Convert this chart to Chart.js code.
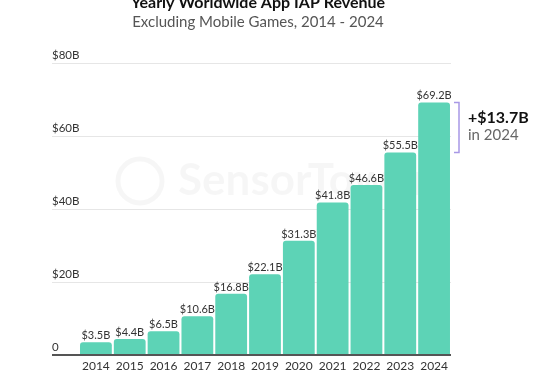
<!DOCTYPE html>
<html>
<head>
<meta charset="utf-8">
<script src="https://cdn.jsdelivr.net/npm/chart.js@4"></script>
<style>
  html, body { margin: 0; padding: 0; background: #fff; }
  #wrap { width: 540px; height: 372px; }
</style>
</head>
<body>
<div id="wrap"><canvas id="iapChart"></canvas></div>
<script>
// chart data
const years = ['2014', '2015', '2016', '2017', '2018', '2019', '2020', '2021', '2022', '2023', '2024'];
const revenue = [3.5, 4.4, 6.5, 10.6, 16.8, 22.1, 31.3, 41.8, 46.6, 55.5, 69.2];
const valueLabels = ['$3.5B', '$4.4B', '$6.5B', '$10.6B', '$16.8B', '$22.1B', '$31.3B', '$41.8B', '$46.6B', '$55.5B', '$69.2B'];
const yTickLabels = ['0', '$20B', '$40B', '$60B', '$80B'];

const FONT = '"Source Sans Pro", Lato, "Noto Sans", sans-serif';

// labels above bars, title, watermark and the growth bracket
const extras = {
    id: 'extras',
    beforeDatasetsDraw(chart) {
        const ctx = chart.ctx;
        ctx.save();
        ctx.fillStyle = 'rgba(0,0,0,0.035)';
        ctx.font = 'bold 44px ' + FONT;
        ctx.textAlign = 'left';
        ctx.textBaseline = 'middle';
        ctx.fillText('SensorTower', 178, 181);
        ctx.strokeStyle = 'rgba(0,0,0,0.035)';
        ctx.lineWidth = 5;
        ctx.beginPath();
        ctx.arc(140, 181, 22, 0, Math.PI * 2);
        ctx.stroke();
        ctx.restore();
    },
    afterDraw(chart) {
        const ctx = chart.ctx;
        const meta = chart.getDatasetMeta(0);
        const y = chart.scales.y;
        ctx.save();

        // title + subtitle
        ctx.textAlign = 'center';
        ctx.textBaseline = 'alphabetic';
        ctx.fillStyle = '#111';
        ctx.font = 'bold 16px ' + FONT;
        ctx.fillText('Yearly Worldwide App IAP Revenue', 258, 8);
        ctx.fillStyle = '#555';
        ctx.font = '15px ' + FONT;
        ctx.fillText('Excluding Mobile Games, 2014 - 2024', 258, 27);

        // value labels
        ctx.fillStyle = '#333';
        ctx.font = '11px ' + FONT;
        meta.data.forEach((bar, i) => {
            ctx.fillText(valueLabels[i], bar.x, bar.y - 3);
        });

        // bracket between last two years
        const last = revenue.length - 1;
        const yTop = y.getPixelForValue(revenue[last]);
        const yBot = y.getPixelForValue(revenue[last - 1]);
        const bx = chart.chartArea.right + 8;
        ctx.strokeStyle = '#a898e6';
        ctx.lineWidth = 1.5;
        ctx.beginPath();
        ctx.moveTo(bx - 5, yTop);
        ctx.lineTo(bx, yTop);
        ctx.lineTo(bx, yBot);
        ctx.lineTo(bx - 5, yBot);
        ctx.stroke();

        const diff = (revenue[last] - revenue[last - 1]).toFixed(1);
        ctx.textAlign = 'left';
        ctx.textBaseline = 'middle';
        ctx.fillStyle = '#111';
        ctx.font = 'bold 16px ' + FONT;
        ctx.fillText('+$' + diff + 'B', bx + 9, yTop + 15);
        ctx.fillStyle = '#666';
        ctx.font = '15px ' + FONT;
        ctx.fillText('in ' + years[last], bx + 9, yTop + 33);
        ctx.restore();
    }
};

new Chart(document.getElementById('iapChart'), {
    type: 'bar',
    data: {
        labels: years,
        datasets: [{
            data: revenue,
            backgroundColor: '#5dd3b6',
            borderRadius: { topLeft: 3, topRight: 3 },
            borderSkipped: 'bottom',
            barPercentage: 0.94,
            categoryPercentage: 1.0
        }]
    },
    options: {
        responsive: true,
        maintainAspectRatio: false,
        animation: false,
        layout: { padding: { top: 63, left: 52, right: 89, bottom: -5 } },
        plugins: {
            legend: { display: false },
            tooltip: { enabled: false }
        },
        scales: {
            x: {
                grid: { display: false, drawTicks: false },
                border: { display: false },
                ticks: {
                    color: '#333',
                    font: { family: FONT, size: 12, lineHeight: 1 },
                    padding: 5,
                    maxRotation: 0
                }
            },
            y: {
                min: 0,
                max: 80,
                afterFit(scale) { scale.width = 27; },
                border: { display: false },
                grid: {
                    color: c => c.tick && c.tick.value === 0 ? '#555' : '#e6e6e6',
                    lineWidth: c => c.tick && c.tick.value === 0 ? 2 : 1,
                    drawTicks: true,
                    tickLength: 27
                },
                ticks: {
                    stepSize: 20,
                    crossAlign: 'far',
                    labelOffset: -8,
                    padding: 0,
                    color: '#333',
                    font: { family: FONT, size: 11.5 },
                    callback: (v, i) => yTickLabels[i]
                }
            }
        }
    },
    plugins: [extras]
});
</script>
</body>
</html>
